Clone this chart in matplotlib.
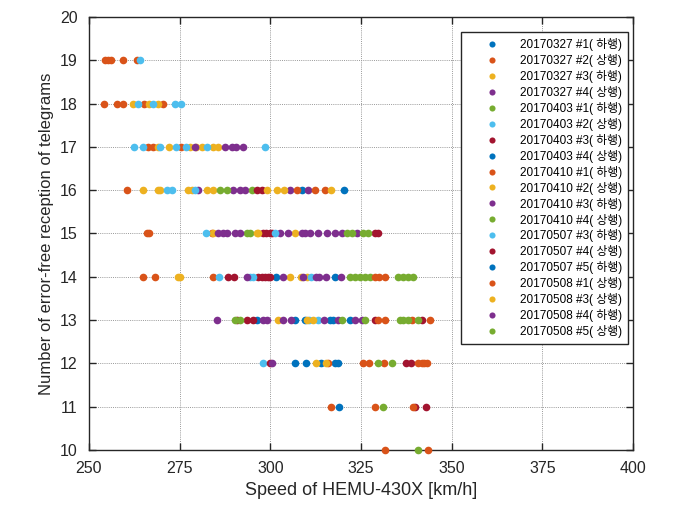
import matplotlib
matplotlib.use("Agg")
import matplotlib.pyplot as plt

plt.rcParams['font.family'] = ['Liberation Sans', 'Noto Sans CJK KR', 'DejaVu Sans']

# MATLAB default colour order
C_BLUE, C_ORANGE, C_YELLOW, C_PURPLE = '#0072BD', '#D95319', '#EDB120', '#7E2F8E'
C_GREEN, C_CYAN, C_RED = '#77AC30', '#4DBEEE', '#A2142F'

# data: {number of error-free telegrams: [speeds in km/h]}
d0327_1 = {16: [308.7, 320.3], 14: [301.7, 317.8]}
d0327_2 = {19: [254.4, 255.2, 256.1, 259.4, 263.2], 18: [254.1, 257.7, 259.4, 265.2, 270.4],
           17: [266.3, 267.6, 275.4], 16: [260.4], 15: [266.0, 266.6], 14: [264.9, 268.2]}
d0327_3 = {18: [262.1, 266.5, 269.0], 17: [269.0, 272.1, 277.8, 279.5, 281.1, 284.2, 285.6],
           16: [264.8, 269.1, 269.7, 277.3, 278.4, 282.5, 284.2], 14: [274.5, 275.1]}
d0327_4 = {17: [279.2, 287.5, 289.4, 290.5, 292.5], 16: [280.0, 289.7, 291.6, 293.0, 305.4, 310.4]}
d0403_1 = {16: [286.1, 288.1, 294.9], 15: [293.6, 294.4]}
d0403_2 = {19: [264.1], 18: [263.5, 267.6, 273.7, 275.4],
           17: [262.4, 264.9, 269.6, 274.0, 276.7, 282.5, 298.5], 16: [271.4, 272.8, 279.2]}
d0403_3 = {16: [296.3, 297.7], 15: [298.0, 298.8, 299.9, 300.5, 328.8, 329.7],
           14: [288.2, 290.1, 296.7, 297.6, 298.5, 299.4, 299.9]}
d0403_4 = {13: [296.4, 306.8, 309.6, 316.4, 317.4, 322.0], 12: [306.8, 309.8, 313.9, 317.8, 318.7]}
d0410_1 = {16: [307.4, 312.3, 315.1], 15: [283.9], 14: [284.1], 12: [316.0], 11: [316.7]}
d0410_2 = {16: [299.1, 301.8, 303.8, 316.7], 15: [284.2, 296.3, 296.6, 306.8], 14: [305.4, 308.6, 310.0]}
d0410_3 = {15: [285.6, 287.0, 288.1, 290.2, 291.6, 302.7, 304.9, 308.7, 309.6, 311.0,
                313.1, 315.6, 317.8, 319.8, 323.9]}
d0410_4 = {15: [321.1, 322.5, 325.5, 326.9], 14: [321.9, 323.3, 324.6, 326.0, 327.4]}
d0507_3 = {15: [282.3, 301.3], 14: [285.9, 294.4, 295.1, 311.3], 13: [310.7, 313.2], 12: [298.1]}
d0507_4 = {13: [290.7, 293.5, 295.1, 328.9, 341.9], 12: [299.9, 337.3, 338.7], 11: [339.9, 342.8]}
d0507_5 = {11: [319.0]}
d0508_1 = {14: [328.8, 330.0, 331.6], 13: [329.8, 331.6, 339.0, 344.0],
           12: [325.6, 327.3, 331.4, 340.8, 341.7, 342.4, 343.1], 11: [329.0, 339.4], 10: [331.6, 343.5]}
d0508_3 = {13: [302.2, 310.0, 311.8], 12: [312.7, 315.3]}
d0508_4 = {14: [293.5, 303.5, 309.0, 312.6, 313.5, 315.3, 319.6],
           13: [285.4, 297.9, 299.0, 303.6, 305.6, 314.8, 318.7, 323.3, 325.2], 12: [300.4]}
d0508_5 = {14: [335.2, 336.5, 337.9, 339.4], 13: [290.3, 291.6, 319.9, 326.1, 335.7, 336.7, 338.0, 340.8],
           12: [329.6, 333.5], 11: [331.0], 10: [340.8]}

series = [
    ('20170327 #1( 하행)', d0327_1, C_BLUE),
    ('20170327 #2( 상행)', d0327_2, C_ORANGE),
    ('20170327 #3( 하행)', d0327_3, C_YELLOW),
    ('20170327 #4( 상행)', d0327_4, C_PURPLE),
    ('20170403 #1( 하행)', d0403_1, C_GREEN),
    ('20170403 #2( 상행)', d0403_2, C_CYAN),
    ('20170403 #3( 하행)', d0403_3, C_RED),
    ('20170403 #4( 상행)', d0403_4, C_BLUE),
    ('20170410 #1( 하행)', d0410_1, C_ORANGE),
    ('20170410 #2( 상행)', d0410_2, C_YELLOW),
    ('20170410 #3( 하행)', d0410_3, C_PURPLE),
    ('20170410 #4( 상행)', d0410_4, C_GREEN),
    ('20170507 #3( 하행)', d0507_3, C_CYAN),
    ('20170507 #4( 상행)', d0507_4, C_RED),
    ('20170507 #5( 하행)', d0507_5, C_BLUE),
    ('20170508 #1( 상행)', d0508_1, C_ORANGE),
    ('20170508 #3( 상행)', d0508_3, C_YELLOW),
    ('20170508 #4( 하행)', d0508_4, C_PURPLE),
    ('20170508 #5( 상행)', d0508_5, C_GREEN),
]

x_ticks = [250, 275, 300, 325, 350, 375, 400]
y_ticks = list(range(10, 21))

fig = plt.figure(figsize=(6.86, 5.12), dpi=100)
ax = fig.add_axes([0.1297, 0.1211, 0.7930, 0.8457])

for label, data, color in series:
    xs, ys = [], []
    for cnt, speeds in data.items():
        xs.extend(speeds)
        ys.extend([cnt] * len(speeds))
    ax.plot(xs, ys, linestyle='none', marker='o', markersize=5.5, markeredgewidth=0,
            color=color, label=label, zorder=3, clip_on=False)

ax.set_xlim(250, 400)
ax.set_ylim(10, 20)
ax.set_xticks(x_ticks)
ax.set_yticks(y_ticks)
ax.grid(True, color='0.6', linestyle=(0, (1, 1.2)), linewidth=0.7)
ax.set_axisbelow(True)
ax.tick_params(direction='in', top=True, right=True, length=5, width=1, labelsize=11.5,
               colors='#262626', pad=8)
for sp in ax.spines.values():
    sp.set_linewidth(1.0)
    sp.set_color('#262626')

ax.set_xlabel('Speed of HEMU-430X [km/h]', fontsize=13, color='#262626', labelpad=4)
ax.set_ylabel('Number of error-free reception of telegrams', fontsize=12, color='#262626', labelpad=4)

leg = ax.legend(loc='upper right', bbox_to_anchor=(0.991, 0.965),
                prop={'family': ['Liberation Sans', 'Noto Sans CJK KR'], 'size': 8.5},
                frameon=True, fancybox=False, edgecolor='#262626', framealpha=1,
                labelspacing=0.25, handlelength=4.2, handletextpad=0.25, borderpad=0.5,
                borderaxespad=0, markerscale=0.8)
leg.get_frame().set_linewidth(1.0)
leg.set_zorder(5)

fig.savefig('out.png', dpi=100)
